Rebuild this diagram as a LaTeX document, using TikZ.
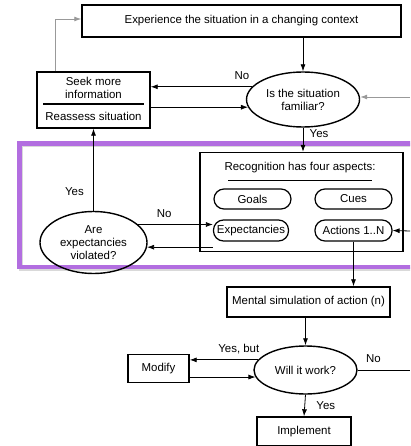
\documentclass[tikz,border=0pt]{standalone}
\usepackage{fontspec}
\setmainfont{Liberation Sans}
\usetikzlibrary{arrows.meta}
\usetikzlibrary{shapes.geometric}
\usetikzlibrary{positioning}
\tikzset{box node/.style={rectangle,draw,line width=1.4bp,inner sep=2bp,align=center},
	oval node/.style={ellipse,draw,line width=1.4bp,inner sep=0pt,align=center},
	pill node/.style={rectangle,draw,line width=1.2bp,rounded corners=10bp,inner sep=0pt,minimum width=77bp,minimum height=20bp},
	link/.style={->,line width=0.8bp},
	grey link/.style={->,line width=0.9bp,draw=gray!80},
	lbl/.style={inner sep=1bp}}

\begin{document}
\begin{tikzpicture}[x=1bp,y=-1bp,>={Latex[length=7bp,width=5bp]},font=\fontsize{11.5}{13.2}\selectfont]
	\useasboundingbox (0,0) rectangle (410,446);
	\clip (0,0) rectangle (410,446);

	% purple frame round the recognition part
	\draw[gray!30,line width=4bp] (21,145) rectangle (440,269);
	\draw[draw={rgb,255:red,178;green,110;blue,224},line width=4.5bp] (19.5,143.5) rectangle (440,267);

	\node[box node,minimum width=319bp,minimum height=32bp] (exper) at (241.5,21) {Experience the situation in a changing context};
	\node[oval node,minimum width=113bp,minimum height=55bp] (famil) at (303,99.5) {Is the situation\\familiar?};
	\node[box node,minimum width=113bp,minimum height=56bp] (seek) at (93.5,100) {};
	\node[lbl,align=center] (seektop) at (93.5,88) {Seek more\\information};
	\node[lbl] (seekbot) at (93.5,116) {Reassess situation};
	\draw[line width=1.2bp] (43,104) -- (144,104);

	\node[box node,minimum width=203bp,minimum height=99bp] (recog) at (301.5,202) {};
	\node[lbl] (recogtitle) at (300,168) {Recognition has four aspects:};
	\draw[line width=1bp] (228,181) -- (372,181);
	\node[pill node] (goals) at (252.5,199) {Goals};
	\node[pill node] (cues) at (353.5,199) {Cues};
	\node[pill node,minimum width=75bp,minimum height=21bp] (expect) at (251,230.5) {Expectancies};
	\node[pill node,minimum height=21bp] (actions) at (353.5,230.5) {Actions 1..N};

	\node[oval node,minimum width=107bp,minimum height=62bp] (viol) at (93.5,242.5) {Are\\expectancies\\violated?};

	\node[box node,minimum width=163bp,minimum height=30bp] (sim) at (308.5,302) {Mental simulation of action (n)};
	\node[oval node,minimum width=103bp,minimum height=48bp] (work) at (305.5,370) {Will it work?};
	\node[box node,minimum width=61bp,minimum height=28bp] (modify) at (158.5,368.5) {Modify};
	\node[box node,minimum width=94bp,minimum height=29bp] (implem) at (304,431.5) {Implement};

	\coordinate (inF) at (410,97);
	\coordinate (inA) at (410,231);
	\coordinate (outW) at (410,370);

	\draw[link] (famil.north |- exper.south) -- (famil.north);
	\draw[grey link] (inF) -- (inF -| famil.east);
	\draw[link] (famil.166) -- (famil.166 -| seek.east) node[pos=0.1,above=3bp] {No};
	\draw[link] (famil.188 -| seek.east) -- (famil.188);
	\draw[grey link] ([xshift=-38.5bp]seek.north) |- ([yshift=2bp]exper.west);
	\draw[link] (famil.south) -- (famil.south |- recog.north) node[pos=0.25,right=3bp] {Yes};

	\draw[link] (viol.north) -- (seek.south) node[pos=0.23,left=6bp] {Yes};
	\draw[link] (viol.22) -- (viol.22 -| expect.west) node[pos=0.35,above=3bp] {No};
	\draw[link] (viol.355 -| expect.west) -- (viol.355);
	\draw[link] (inA) -- (actions.east);
	\draw[link] (actions.south) -- (actions.south |- sim.north);

	\draw[link] (work.north |- sim.south) -- (work.north);
	\draw[link] (work.168) -- (work.168 -| modify.east) node[pos=0.28,above=2bp] {Yes, but};
	\draw[link] (work.188 -| modify.east) -- (work.188);
	\draw[line width=0.8bp] (work.east) -- (outW) node[pos=0.3,above=4bp] {No};
	\draw[link] (work.south) -- (implem.north) node[midway,right=8bp] {Yes};
\end{tikzpicture}
\end{document}
